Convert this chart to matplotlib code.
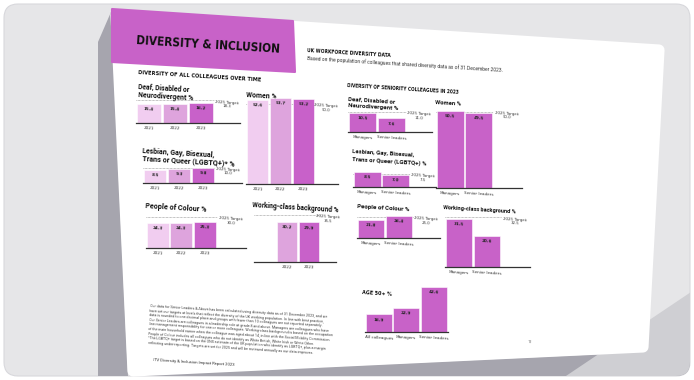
import matplotlib
matplotlib.use("Agg")
import matplotlib.pyplot as plt
from matplotlib import font_manager
from matplotlib.font_manager import FontProperties
from matplotlib.patches import Polygon, FancyBboxPatch

W, H = 694, 380
TILT = -3.5

avail = {f.name for f in font_manager.fontManager.ttflist}
SANS = "Roboto" if "Roboto" in avail else "DejaVu Sans"


def condensed_bold():
    # look for any bold condensed / narrow face that happens to be installed
    for f in font_manager.fontManager.ttflist:
        tag = (f.name + " " + str(f.stretch)).lower()
        bold = f.weight in (600, 700, 800, "bold", "semibold")
        if bold and any(k in tag for k in ("narrow", "condensed", "compressed")):
            return f.fname
    return None


COND = condensed_bold()


def head_font():
    if COND:
        return FontProperties(fname=COND, size=10)
    return FontProperties(family=SANS, weight="bold", size=10)


# colours
PURPLE = "#c862c8"
SHADES = ["#f1cdf0", "#dea4dd", "#c861c9"]

# --- data: all colleagues over time ---
years = ["2021", "2022", "2023"]
deaf_all = [15.4, 15.4, 16.2]
deaf_all_target = 18.3
women_all = [52.6, 53.7, 53.2]
women_all_target = 50.0
lgbtq_all = [8.5, 9.3, 9.8]
lgbtq_all_target = 10.0
poc_all = [24.3, 24.3, 25.3]
poc_all_target = 30.0
wc_years = ["2022", "2023"]
wc_all = [30.2, 29.9]
wc_all_target = 35.5

# --- data: seniority in 2023 ---
levels = ["Managers", "Senior leaders"]
deaf_sen = [10.5, 7.6]
deaf_sen_target = 11.0
women_sen = [50.5, 49.5]
women_sen_target = 50.0
lgbtq_sen = [8.5, 7.0]
lgbtq_sen_target = 7.5
poc_sen = [21.8, 26.4]
poc_sen_target = 25.0
wc_sen = [31.5, 20.6]
wc_sen_target = 32.5
age_levels = ["All colleagues", "Managers", "Senior leaders"]
age50 = [16.9, 22.9, 42.6]

footnote = [
    "Our data for Senior Leaders & Above has been calculated using diversity data as of 31 December 2023, and we",
    "have set our targets at levels that reflect the diversity of the UK working population. In line with best practice,",
    "data is rounded to one decimal place and groups with fewer than 10 colleagues are not reported separately.",
    "Our Senior Leaders are colleagues in a leadership role at grade 8 and above. Managers are colleagues who have",
    "line management responsibility for one or more colleagues. Working-class background is based on the occupation",
    "of the main household earner when the colleague was aged about 14, in line with the Social Mobility Commission.",
    "People of Colour includes all colleagues who do not identify as White British, White Irish or White Other.",
    "*The LGBTQ+ target is based on the ONS estimate of the UK population who identify as LGBTQ+, plus a margin",
    "reflecting under-reporting. Targets are set for 2025 and will be reviewed annually as our data improves.",
]

fig = plt.figure(figsize=(W / 100, H / 100), dpi=100)
fig.patch.set_facecolor("white")
bg = fig.add_axes([0, 0, 1, 1])
bg.set_xlim(0, W)
bg.set_ylim(H, 0)
bg.axis("off")
renderer = fig.canvas.get_renderer()

# backdrop, page shadow and page
card = FancyBboxPatch((4, 4), W - 8, H - 8, boxstyle="round,pad=0,rounding_size=14",
                      fc="#e6e6e8", ec="#d8d8dc", lw=0.8)
bg.add_patch(card)
shadow = Polygon([(98, 42), (111, 12), (128, 376), (648, 352), (694, 352), (694, 380), (98, 380)],
                 closed=True, fc="#a6a5ae", ec="none")
bg.add_patch(shadow)
shadow.set_clip_path(card)
corner = Polygon([(560, 380), (694, 290), (694, 380)], closed=True, fc="#cfcfd3", ec="none")
bg.add_patch(corner)
corner.set_clip_path(card)
page = Polygon([(116, 15), (659, 50), (643, 347), (133, 371)], closed=True,
               fc="white", ec="white", lw=8, joinstyle="round")
bg.add_patch(page)
header = Polygon([(112, 9), (293, 21), (295, 72), (112, 62)], closed=True,
                 fc=PURPLE, ec=PURPLE, lw=1.5, joinstyle="round")
bg.add_patch(header)


def say(x, y, s, size, weight="normal", color="#111111", **kw):
    bg.text(x, y, s, fontsize=size, fontweight=weight, family=SANS, color=color,
            rotation=TILT, rotation_mode="anchor", ha=kw.pop("ha", "left"),
            va=kw.pop("va", "center"), **kw)


def fit(x, y, s, width, fp=None, color="#111111"):
    # size the text so that it spans `width` pixels, then tilt it
    fp = fp or FontProperties(family=SANS, weight="bold", size=10)
    t = bg.text(x, y, s, fontproperties=fp, color=color, ha="left", va="center",
                rotation_mode="anchor")
    w = t.get_window_extent(renderer).width
    fp2 = fp.copy()
    fp2.set_size(fp.get_size() * width / w)
    t.set_fontproperties(fp2)
    t.set_rotation(TILT)


fit(136, 41, "DIVERSITY & INCLUSION", 144, head_font())
fit(307, 51, "UK WORKFORCE DIVERSITY DATA", 83, head_font())
fit(307, 58, "Based on the population of colleagues that shared diversity data as of 31 December 2023.",
    195, FontProperties(family=SANS, size=10), color="#333333")
fit(138, 73, "DIVERSITY OF ALL COLLEAGUES OVER TIME", 122, head_font())
fit(347, 86, "DIVERSITY OF SENIORITY COLLEAGUES IN 2023", 113, head_font())

fit(138, 87, "Deaf, Disabled or", 52)
fit(138, 95, "Neurodivergent %", 55)
fit(246, 95, "Women %", 30)
fit(142, 151, "Lesbian, Gay, Bisexual,", 72)
fit(142, 159, "Trans or Queer (LGBTQ+)* %", 93)
fit(145, 206, "People of Colour %", 62)
fit(252, 205, "Working-class background %", 86)
fit(348, 99, "Deaf, Disabled or", 47)
fit(348, 106, "Neurodivergent %", 50)
fit(435, 103, "Women %", 26)
fit(352, 152, "Lesbian, Gay, Bisexual,", 62)
fit(352, 159, "Trans or Queer (LGBTQ+) %", 74)
fit(357, 207, "People of Colour %", 52)
fit(443, 208, "Working-class background %", 74)
fit(362, 293, "AGE 50+ %", 30, head_font())

say(150, 304, "\n".join(footnote), 2.6, color="#444444", va="top", linespacing=1.2)
say(153, 360, "ITV Diversity & Inclusion Impact Report 2023", 3.0, color="#333333")
say(528, 342, "11", 2.8, color="#555555")


def bar_chart(x0, slot, xend, base, top, values, labels, colors, target=None, start=0):
    # x0: left pixel of slot 0, slot: pixel width of one bar slot
    ax = fig.add_axes([x0 / W, 1 - base / H, (xend - x0) / W, (base - top) / H])
    ax.patch.set_alpha(0)
    pos = list(range(start, start + len(values)))
    xmax = -0.5 + (xend - x0) / slot
    ax.set_xlim(-0.5, xmax)
    ax.set_ylim(0, max(values))
    ax.bar(pos, values, width=0.94, color=colors, edgecolor="white", linewidth=0.4, zorder=2)
    for p, v in zip(pos, values):
        ax.annotate(f"{v:.1f}", (p, v), xytext=(0, -2.5), textcoords="offset points",
                    ha="center", va="top", fontsize=3.0, fontweight="bold", color="#222222",
                    rotation=TILT, zorder=3)
    if target is not None:
        end = start + len(values) - 0.5
        ax.hlines(target, -0.5, end, colors="#888888", linestyles=(0, (1, 1)),
                  linewidth=0.5, clip_on=False, zorder=1)
        ax.text((end + xmax) / 2, target, f"2025 Target:\n{target:.1f}", ha="center", va="top",
                fontsize=2.8, color="#333333", linespacing=1.0, rotation=TILT,
                rotation_mode="anchor", clip_on=False)
    ax.set_xticks(pos, labels, fontsize=3.0, rotation=TILT, color="#333333")
    ax.set_yticks([])
    ax.tick_params(axis="x", length=0, pad=2)
    for side in ["top", "right", "left"]:
        ax.spines[side].set_visible(False)
    ax.spines["bottom"].set_color("#333333")
    ax.spines["bottom"].set_linewidth(0.9)
    return ax


# all colleagues over time
bar_chart(136, 26, 240, 123, 103, deaf_all, years, SHADES, deaf_all_target)
bar_chart(246, 23, 338, 184, 98, women_all, years, SHADES, women_all_target)
bar_chart(143, 24, 242, 183, 168, lgbtq_all, years, SHADES, lgbtq_all_target)
bar_chart(146, 23.5, 246, 248, 222, poc_all, years, SHADES, poc_all_target)
bar_chart(254, 22, 336, 262, 222, wc_all, wc_years, SHADES[1:], wc_all_target, start=1)

# seniority in 2023
bar_chart(348, 29, 432, 132, 113, deaf_sen, levels, PURPLE, deaf_sen_target)
bar_chart(436, 28.5, 522, 188, 111, women_sen, levels, PURPLE, women_sen_target)
bar_chart(353, 28.5, 436, 187, 172, lgbtq_sen, levels, PURPLE, lgbtq_sen_target)
bar_chart(357, 28, 440, 238, 216, poc_sen, levels, PURPLE, poc_sen_target)
bar_chart(445, 28, 530, 267, 219, wc_sen, levels, PURPLE, wc_sen_target)
bar_chart(365, 27.5, 448, 332, 287, age50, age_levels, PURPLE)

fig.savefig("out.png", dpi=100, facecolor=fig.get_facecolor())
